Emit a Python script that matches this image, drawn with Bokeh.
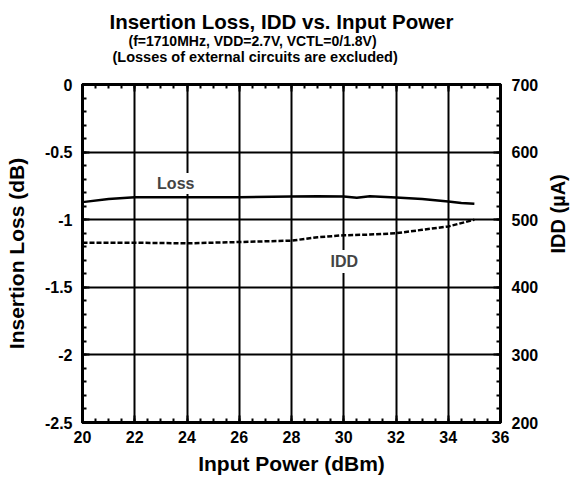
from bokeh.plotting import figure
from bokeh.models import LinearAxis, Range1d, Label, SingleIntervalTicker, NumeralTickFormatter, Title
from bokeh.embed import file_html
from bokeh.resources import INLINE
import math

# ---- data ----
power_loss = [20, 21, 22, 24, 26, 28, 29, 30, 30.5, 31, 32, 33, 34, 34.5, 35]
loss_db = [-0.870, -0.847, -0.834, -0.834, -0.834, -0.828, -0.826, -0.828,
           -0.838, -0.826, -0.836, -0.847, -0.865, -0.876, -0.882]
power_idd = [20, 22, 24, 26, 28, 29, 30, 31, 32, 33, 34, 35]
idd_ua = [466, 466, 465, 467, 469, 474, 477, 478, 480, 485, 490, 500]

title_lines = ["Insertion Loss, IDD vs. Input Power",
               "(f=1710MHz, VDD=2.7V, VCTL=0/1.8V)",
               "(Losses of external circuits are excluded)"]
x_label = "Input Power (dBm)"
y_label = "Insertion Loss (dB)"
y2_label = "IDD (\u00b5A)"

FONT = "Liberation Sans"

p = figure(width=583, height=479, x_range=Range1d(20, 36), y_range=Range1d(-2.5, 0),
           output_backend="svg", toolbar_location=None, title=None,
           min_border_left=82, min_border_right=77, min_border_top=84, min_border_bottom=57)
p.background_fill_color = "white"
p.border_fill_color = "white"
p.outline_line_color = "black"
p.outline_line_width = 3

p.extra_y_ranges = {"idd": Range1d(200, 700)}


def style_axis(ax):
    ax.axis_line_color = "black"
    ax.axis_line_width = 3
    ax.major_tick_in = 7
    ax.major_tick_out = 0
    ax.minor_tick_in = 4
    ax.minor_tick_out = 0
    ax.major_tick_line_width = 2
    ax.minor_tick_line_width = 2
    ax.major_tick_line_color = "black"
    ax.minor_tick_line_color = "black"
    ax.major_label_text_font = FONT
    ax.major_label_text_font_style = "bold"
    ax.major_label_text_font_size = "16px"
    ax.major_label_text_color = "black"
    ax.axis_label_text_font = FONT
    ax.axis_label_text_font_style = "bold"
    ax.axis_label_text_font_size = "21px"
    ax.axis_label_text_color = "black"


xt = SingleIntervalTicker(interval=2, num_minor_ticks=4)
yt = SingleIntervalTicker(interval=0.5, num_minor_ticks=5)
y2t = SingleIntervalTicker(interval=100, num_minor_ticks=5)

bx = p.xaxis[0]
bx.ticker = xt
bx.axis_label = x_label
style_axis(bx)
bx.major_label_standoff = 8
bx.axis_label_standoff = 6

ly = p.yaxis[0]
ly.ticker = yt
ly.formatter = NumeralTickFormatter(format="0.[0]")
ly.axis_label = y_label
style_axis(ly)
ly.major_label_standoff = 10
ly.axis_label_standoff = 14

ry = LinearAxis(y_range_name="idd", ticker=y2t, axis_label=y2_label)
style_axis(ry)
ry.axis_label_text_font_size = "20px"
ry.major_label_standoff = 11
ry.axis_label_standoff = 17
if hasattr(ry, "axis_label_orientation"):
    ry.axis_label_orientation = math.pi / 2
p.add_layout(ry, "right")

tx = LinearAxis(ticker=SingleIntervalTicker(interval=2, num_minor_ticks=4))
style_axis(tx)
tx.major_label_text_alpha = 0
tx.major_label_text_font_size = "1px"
tx.major_label_standoff = 0
p.add_layout(tx, "above")

p.xgrid.ticker = xt
p.ygrid.ticker = yt
for g in (p.xgrid[0], p.ygrid[0]):
    g.grid_line_color = "black"
    g.grid_line_width = 2
    g.grid_line_alpha = 1

p.line(power_loss, loss_db, line_color="black", line_width=2.5)
p.line(power_idd, idd_ua, y_range_name="idd", line_color="black", line_width=2.5,
       line_dash="5 2")

p.add_layout(Label(x=23.57, y=-0.732, text="Loss", text_font=FONT, text_font_style="bold",
                   text_font_size="16px", text_align="center", text_baseline="middle",
                   background_fill_color="white", padding=2))
p.add_layout(Label(x=30.02, y=-1.309, text="IDD", text_font=FONT, text_font_style="bold",
                   text_font_size="16px", text_align="center", text_baseline="middle",
                   background_fill_color="white", padding=3))

# spacer between the plot frame and the title block
p.add_layout(Title(text=" ", text_font=FONT, text_font_size="14px", standoff=2), "above")

# titles: added nearest-first (each later one sits above the previous)
title_specs = [(title_lines[2], "14.5px", 30, 0),
               (title_lines[1], "14px", 46, -4),
               (title_lines[0], "20.5px", 27, 0)]
for txt, fs, off, so in title_specs:
    p.add_layout(Title(text=txt, text_font=FONT, text_font_style="bold", text_font_size=fs,
                       text_color="black", align="left", offset=off, standoff=so), "above")

open("out.html", "w").write(file_html(p, INLINE))
